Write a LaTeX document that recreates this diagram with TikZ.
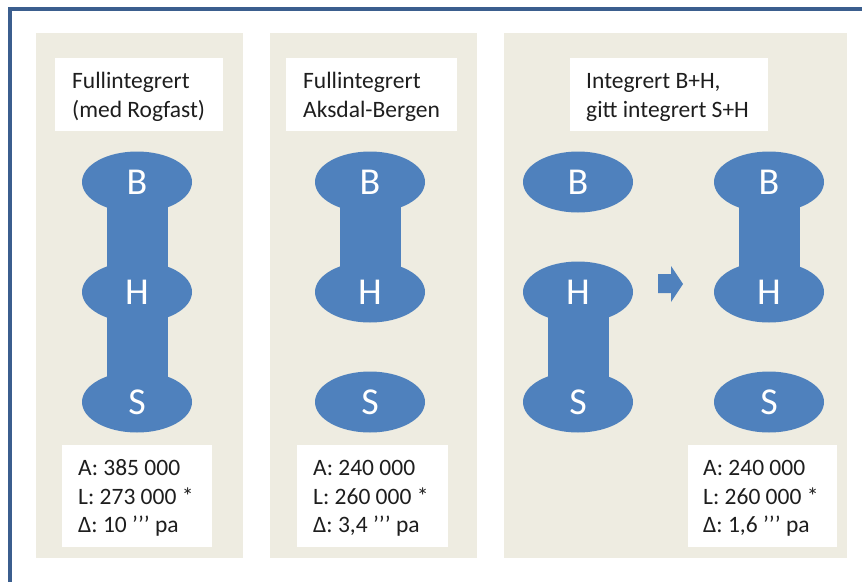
\documentclass[tikz,border=0pt]{standalone}
\usepackage{fontspec}
\setmainfont{Carlito}
\usetikzlibrary{shapes.geometric}
\definecolor{panelbg}{HTML}{EEECE1}
\definecolor{nodeblue}{HTML}{4F81BD}
\definecolor{frameblue}{HTML}{3B5E8E}
\definecolor{txt}{HTML}{1E1E1E}
\pgfdeclarelayer{bg}
\pgfdeclarelayer{mid}
\pgfsetlayers{bg,mid,main}
\begin{document}
\begin{tikzpicture}[x=1pt,y=-1pt,
  panel/.style={fill=panelbg},
  whitebox/.style={fill=white},
  city/.style={ellipse, fill=nodeblue, minimum width=110pt, minimum height=61pt,
    inner sep=0pt, text=white, font=\fontsize{38}{38}\selectfont},
  lbl/.style={anchor=base west, inner sep=0pt, text=txt,
    font=\fontsize{23.5}{28}\selectfont},
  link/.style={fill=nodeblue}
]
\useasboundingbox (0,0) rectangle (862,581);
\begin{pgfonlayer}{bg}
\fill[white] (0,0) rectangle (862,581);
\draw[frameblue, line width=4pt] (10.3,600) -- (10.3,8.8) -- (880,8.8);
% panels
\path[panel] (36,33) rectangle (243,558);
\path[panel] (270,33) rectangle (477,558);
\path[panel] (504,33) rectangle (847,558);
% title boxes
\path[whitebox] (55,58) rectangle (223,131);
\path[whitebox] (286,58) rectangle (457,131);
\path[whitebox] (570,58) rectangle (768,131);
% value boxes
\path[whitebox] (62,445) rectangle (212,547);
\path[whitebox] (297,445) rectangle (448,547);
\path[whitebox] (688,445) rectangle (837,547);
\end{pgfonlayer}

% titles
\node[lbl] (t1a) at (72,88) {Fullintegrert};
\node[lbl] (t1b) at (72,117) {(med Rogfast)};
\node[lbl] (t2a) at (303,88) {Fullintegrert};
\node[lbl] (t2b) at (303,117) {Aksdal-Bergen};
\node[lbl] (t3a) at (586,88) {Integrert B+H,};
\node[lbl] (t3b) at (586,117) {gitt integrert S+H};

% values
\node[lbl] (v1a) at (78,475) {A: 385 000};
\node[lbl] (v1b) at (78,504) {L: 273 000 *};
\node[lbl] (v1c) at (78,532) {Δ: 10 ’’’ pa};
\node[lbl] (v2a) at (313,475) {A: 240 000};
\node[lbl] (v2b) at (313,504) {L: 260 000 *};
\node[lbl] (v2c) at (313,532) {Δ: 3,4 ’’’ pa};
\node[lbl] (v3a) at (703,475) {A: 240 000};
\node[lbl] (v3b) at (703,504) {L: 260 000 *};
\node[lbl] (v3c) at (703,532) {Δ: 1,6 ’’’ pa};

% cities
\node[city] (b1) at (137,182) {B};
\node[city] (h1) at (137,292) {H};
\node[city] (s1) at (137,402) {S};
\node[city] (b2) at (370,182) {B};
\node[city] (h2) at (370,292) {H};
\node[city] (s2) at (370,402) {S};
\node[city] (b3) at (578,182) {B};
\node[city] (h3) at (578,292) {H};
\node[city] (s3) at (578,402) {S};
\node[city] (b4) at (769,182) {B};
\node[city] (h4) at (769,292) {H};
\node[city] (s4) at (769,402) {S};

% links
\begin{pgfonlayer}{mid}
\fill[link] ([xshift=-30.5pt]b1.center) rectangle ([xshift=30.5pt]h1.center);
\fill[link] ([xshift=-30.5pt]h1.center) rectangle ([xshift=30.5pt]s1.center);
\fill[link] ([xshift=-30.5pt]b2.center) rectangle ([xshift=30.5pt]h2.center);
\fill[link] ([xshift=-30.5pt]h3.center) rectangle ([xshift=30.5pt]s3.center);
\fill[link] ([xshift=-30.5pt]b4.center) rectangle ([xshift=30.5pt]h4.center);
\end{pgfonlayer}

% block arrow
\fill[nodeblue] (658,274) -- (671,274) -- (671,266) -- (683,284) -- (671,302)
  -- (671,293) -- (658,293) -- cycle;
\end{tikzpicture}
\end{document}
